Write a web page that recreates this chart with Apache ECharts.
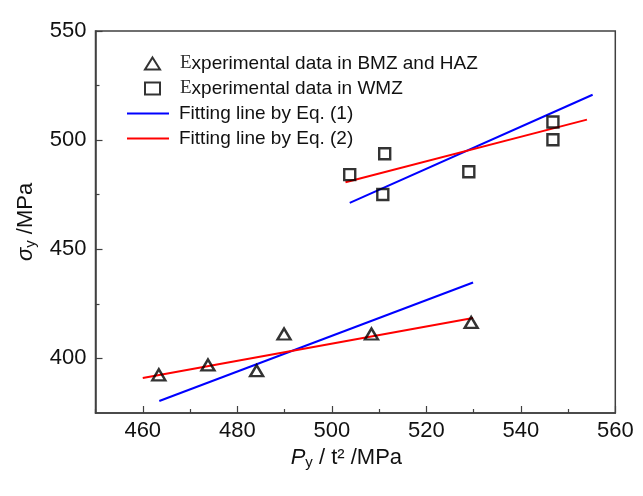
<!DOCTYPE html>
<html>
<head>
<meta charset="utf-8">
<script src="https://cdn.jsdelivr.net/npm/echarts@6/dist/echarts.min.js"></script>
<style>html,body{margin:0;padding:0;background:#fff;}#c{width:643px;height:496px;}</style>
</head>
<body>
<div id="c"></div>
<script>
// ---- data ----
const bmzX = [463.4, 473.8, 484.1, 489.9, 508.4, 529.5];
const bmzY = [392.5, 397.0, 394.4, 411.2, 411.2, 416.5];
const wmzX = [503.8, 511.2, 510.8, 529.0, 546.8, 546.8];
const wmzY = [484.2, 493.8, 475.1, 485.5, 508.3, 500.2];
// fitting line end points: [x1, x2], [y1, y2]
const eq1BmzX = [463.5, 529.9], eq1BmzY = [380.5, 434.8];
const eq1WmzX = [503.8, 555.2], eq1WmzY = [471.3, 520.8];
const eq2BmzX = [460.0, 529.9], eq2BmzY = [391.0, 418.5];
const eq2WmzX = [502.9, 554.0], eq2WmzY = [480.7, 509.4];
const xMajorTicks = [460, 480, 500, 520, 540, 560];
const xMinorTicks = [450, 470, 490, 510, 530, 550];
const yMajorTicks = [400, 450, 500, 550];
const yMinorTicks = [425, 475, 525];
const names = ['Experimental data in BMZ and HAZ', 'Experimental data in WMZ', 'Fitting line by Eq. (1)', 'Fitting line by Eq. (2)'];

const zip = (xs, ys) => xs.map((x, i) => [x, ys[i]]);
const FONT = '"Liberation Sans", Arial, sans-serif';
const AX = '#404040';
const FS = 22;

const chart = echarts.init(document.getElementById('c'), null, {renderer: 'canvas'});
const grid = {left: 95.5, right: 27.7, top: 31, bottom: 83, show: true, borderColor: AX, borderWidth: 1.5, backgroundColor: 'transparent'};

const xBase = {type: 'value', min: 450, max: 560, interval: 10, gridIndex: 0, position: 'bottom', splitLine: {show: false}};
const yBase = {type: 'value', min: 375, max: 550, interval: 25, gridIndex: 0, position: 'left', splitLine: {show: false}};
const nameRich = {
  i: {fontSize: FS, fontStyle: 'italic', fontFamily: FONT, color: '#111'},
  s: {fontSize: 15, fontFamily: FONT, color: '#111', padding: [10, 0, 0, 0]},
  t: {fontSize: FS, fontFamily: FONT, color: '#111'}
};
const legendText = {fontSize: 19, fontFamily: FONT, color: '#111', lineHeight: 19,
  rich: {e: {fontSize: 19, fontFamily: '"Liberation Serif", "DejaVu Serif", serif', color: '#333'}}};

chart.setOption({
  animation: false,
  backgroundColor: '#fff',
  grid: grid,
  xAxis: [
    Object.assign({}, xBase, {
      axisLine: {show: true, lineStyle: {color: AX, width: 1.5}},
      axisTick: {show: true, inside: true, length: 7, customValues: xMajorTicks, lineStyle: {color: AX, width: 1.2}},
      axisLabel: {show: true, customValues: xMajorTicks, margin: 7, color: '#111', fontSize: FS, fontFamily: FONT},
      name: '{i|P}{s|y}{t| / t² /MPa}',
      nameLocation: 'middle',
      nameGap: 32,
      nameTextStyle: {color: '#111', fontSize: FS, fontFamily: FONT, padding: [0, 18, 0, 0], rich: nameRich}
    }),
    Object.assign({}, xBase, {
      axisLine: {show: false},
      axisTick: {show: true, inside: true, length: 4, customValues: xMinorTicks, lineStyle: {color: AX, width: 1.2}},
      axisLabel: {show: false}
    })
  ],
  yAxis: [
    Object.assign({}, yBase, {
      axisLine: {show: true, lineStyle: {color: AX, width: 1.5}},
      axisTick: {show: true, inside: true, length: 7, customValues: yMajorTicks, lineStyle: {color: AX, width: 1.2}},
      axisLabel: {show: true, customValues: yMajorTicks, margin: 9, color: '#111', fontSize: FS, fontFamily: FONT},
      name: '{i|σ}{s|y}{t| /MPa}',
      nameLocation: 'middle',
      nameGap: 57,
      nameRotate: 90,
      nameTextStyle: {color: '#111', fontSize: FS, fontFamily: FONT, rich: nameRich}
    }),
    Object.assign({}, yBase, {
      axisLine: {show: false},
      axisTick: {show: true, inside: true, length: 4, customValues: yMinorTicks, lineStyle: {color: AX, width: 1.2}},
      axisLabel: {show: false}
    })
  ],
  legend: [
    {
      orient: 'vertical', left: 139, top: 49, itemWidth: 15, itemHeight: 12, itemGap: 6,
      data: [{name: names[0], icon: 'triangle'}, {name: names[1], icon: 'rect'}],
      formatter: n => '{e|E}' + n.slice(1),
      textStyle: Object.assign({padding: [0, 0, 0, 15]}, legendText)
    },
    {
      orient: 'vertical', left: 122, top: 99, itemWidth: 42, itemHeight: 2, itemGap: 6,
      data: [{name: names[2], icon: 'rect'}, {name: names[3], icon: 'rect'}],
      textStyle: Object.assign({padding: [0, 0, 0, 5]}, legendText)
    }
  ],
  series: [
    {name: names[0], type: 'scatter', data: zip(bmzX, bmzY), symbol: 'triangle', symbolSize: [13, 11],
     itemStyle: {color: 'rgba(0,0,0,0)', borderColor: '#000', borderWidth: 2.4}, z: 5},
    {name: names[1], type: 'scatter', data: zip(wmzX, wmzY), symbol: 'rect', symbolSize: 11,
     itemStyle: {color: 'rgba(0,0,0,0)', borderColor: '#000', borderWidth: 2.4}, z: 5},
    {name: names[2], type: 'line', data: zip(eq1BmzX, eq1BmzY), showSymbol: false, symbol: 'none',
     lineStyle: {color: '#0000ff', width: 2}, itemStyle: {color: '#0000ff'}},
    {name: names[2], type: 'line', data: zip(eq1WmzX, eq1WmzY), showSymbol: false, symbol: 'none',
     lineStyle: {color: '#0000ff', width: 2}, itemStyle: {color: '#0000ff'}},
    {name: names[3], type: 'line', data: zip(eq2BmzX, eq2BmzY), showSymbol: false, symbol: 'none',
     lineStyle: {color: '#ff0000', width: 2}, itemStyle: {color: '#ff0000'}},
    {name: names[3], type: 'line', data: zip(eq2WmzX, eq2WmzY), showSymbol: false, symbol: 'none',
     lineStyle: {color: '#ff0000', width: 2}, itemStyle: {color: '#ff0000'}}
  ]
});
</script>
</body>
</html>
